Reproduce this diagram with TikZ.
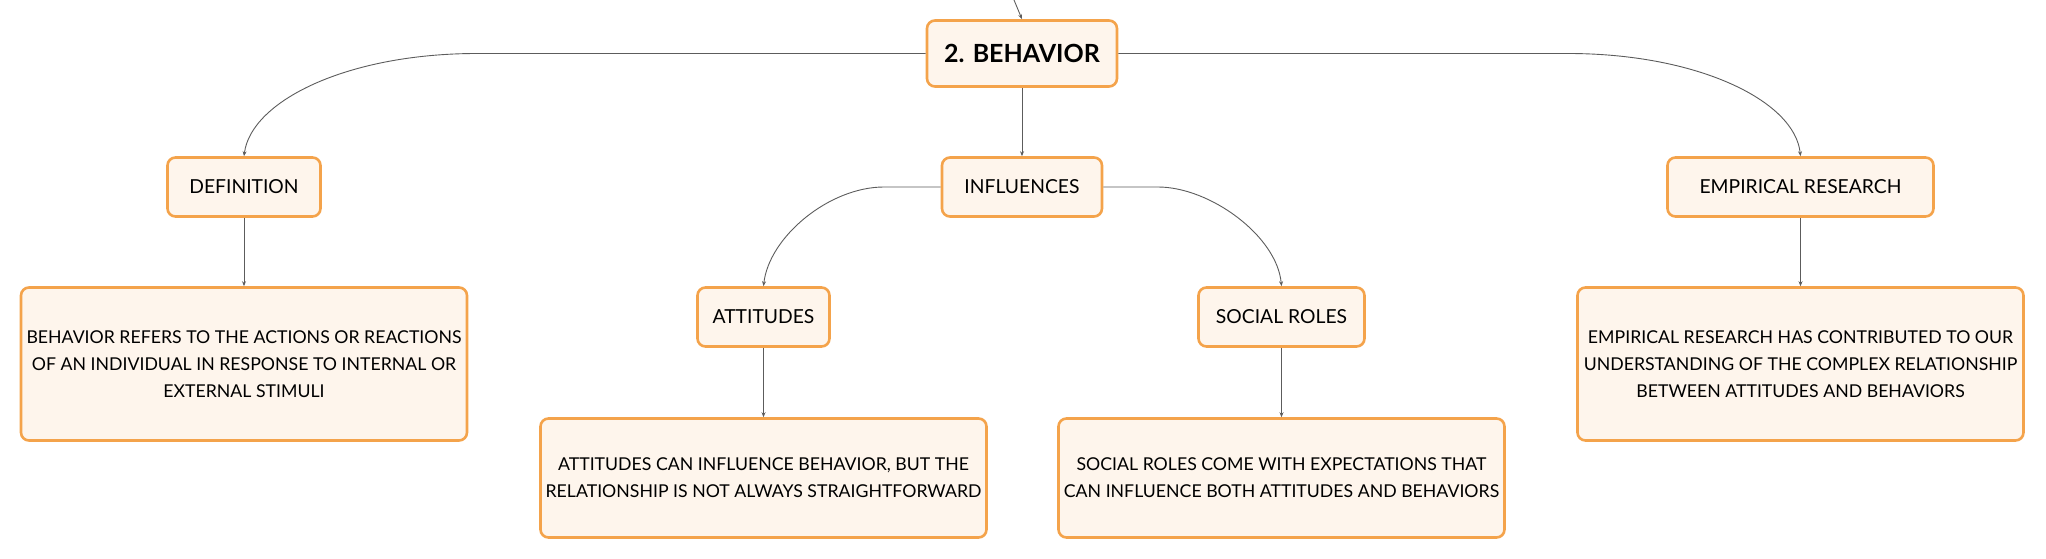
\documentclass[tikz,border=0pt]{standalone}
\usepackage{fontspec}
\setmainfont{Lato}
\usetikzlibrary{arrows.meta}
\definecolor{boxline}{HTML}{F4A34B}
\definecolor{boxfill}{HTML}{FEF5EC}
\definecolor{wire}{HTML}{5C5C5C}
\tikzset{
  mapbox/.style={draw=boxline, line width=2.6pt, fill=boxfill, rounded corners=8pt,
    inner sep=0pt, align=center, text=black},
  titlebox/.style={mapbox, minimum width=190pt, minimum height=66pt,
    font=\fontsize{25}{29}\selectfont\bfseries},
  labelbox/.style={mapbox, minimum height=59pt, font=\fontsize{19.3}{23}\selectfont},
  textbox/.style={mapbox, minimum width=446pt, font=\fontsize{17.7}{27}\selectfont},
  wirestyle/.style={draw=wire, line width=0.9pt, -{Stealth[length=5pt,width=4pt]}}
}
\begin{document}
\begin{tikzpicture}[x=1pt,y=-1pt]
\useasboundingbox (0,0) rectangle (2046,559);
\node[titlebox] (beh) at (1022,53.5) {2. BEHAVIOR};
\node[labelbox, minimum width=153pt] (def) at (244,187) {DEFINITION};
\node[labelbox, minimum width=160pt] (inf) at (1022,187) {INFLUENCES};
\node[labelbox, minimum width=266pt] (emp) at (1800.5,187) {EMPIRICAL RESEARCH};
\node[labelbox, minimum width=132pt] (att) at (763.5,317) {ATTITUDES};
\node[labelbox, minimum width=166pt] (soc) at (1281.5,317) {SOCIAL ROLES};
\node[textbox, minimum height=153pt] (deft) at (244,364) {BEHAVIOR REFERS TO THE ACTIONS OR REACTIONS\\OF AN INDIVIDUAL IN RESPONSE TO INTERNAL OR\\EXTERNAL STIMULI};
\node[textbox, minimum height=119pt] (attt) at (763.5,478) {ATTITUDES CAN INFLUENCE BEHAVIOR, BUT THE\\RELATIONSHIP IS NOT ALWAYS STRAIGHTFORWARD};
\node[textbox, minimum height=119pt] (soct) at (1281.5,478) {SOCIAL ROLES COME WITH EXPECTATIONS THAT\\CAN INFLUENCE BOTH ATTITUDES AND BEHAVIORS};
\node[textbox, minimum height=153pt] (empt) at (1800.5,364) {EMPIRICAL RESEARCH HAS CONTRIBUTED TO OUR\\UNDERSTANDING OF THE COMPLEX RELATIONSHIP\\BETWEEN ATTITUDES AND BEHAVIORS};
\coordinate (top) at (1014,0);
\coordinate (bl) at (477,53.5);
\coordinate (br) at (1568,53.5);
\coordinate (il) at (884,187);
\coordinate (ir) at (1158,187);
\draw[wirestyle] (top) -- (beh.north);
\draw[wirestyle] (beh.west) -- (bl) .. controls (347,53.5) and (251,101) .. (def.north);
\draw[wirestyle] (beh.east) -- (br) .. controls (1698,53.5) and (1795,101) .. (emp.north);
\draw[wirestyle] (beh.south) -- (inf.north);
\draw[wirestyle] (inf.west) -- (il) .. controls (829,187) and (769,237) .. (att.north);
\draw[wirestyle] (inf.east) -- (ir) .. controls (1210,187) and (1277,236) .. (soc.north);
\draw[wirestyle] (def.south) -- (deft.north);
\draw[wirestyle] (att.south) -- (attt.north);
\draw[wirestyle] (soc.south) -- (soct.north);
\draw[wirestyle] (emp.south) -- (empt.north);
\end{tikzpicture}
\end{document}
